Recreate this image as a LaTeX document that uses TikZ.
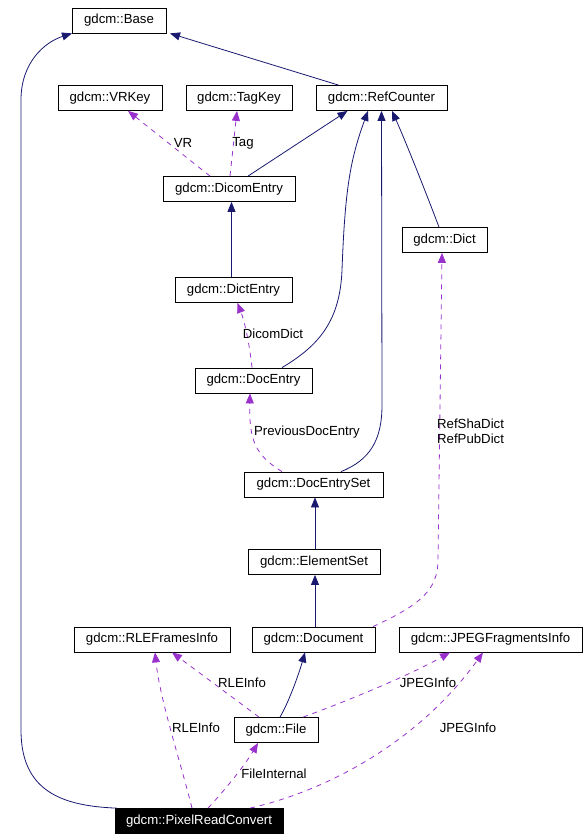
\documentclass[tikz,border=0pt]{standalone}
\usepackage{fontspec}
\setmainfont{Liberation Sans}
\usetikzlibrary{arrows.meta}
\definecolor{edgenavy}{RGB}{25,25,112}
\definecolor{edgepurple}{RGB}{153,50,204}
\tikzset{
  txt/.style={font=\fontsize{13.2}{15.5}\selectfont},
  cls/.style={txt, draw=black, line width=0.8pt, minimum width=#1, minimum height=25pt, inner sep=0pt, fill=white},
  clsdark/.style={cls=#1, fill=black, text=white},
  inh/.style={draw=edgenavy, line width=0.8pt, -{Triangle[length=10pt,width=8pt]}},
  usearrow/.style={draw=edgepurple, line width=0.8pt, dash pattern=on 5pt off 5pt, -{Triangle[length=10pt,width=8pt]}},
  lbl/.style={txt, inner sep=0pt}
}
\begin{document}
\begin{tikzpicture}[x=1pt,y=-1pt]
\useasboundingbox (0,0) rectangle (587,840);
% nodes
\node[cls=94pt]  (base)   at (119,20.5)  {gdcm::Base};
\node[cls=104pt] (vrkey)  at (110,98)    {gdcm::VRKey};
\node[cls=106pt] (tagkey) at (239,98)    {gdcm::TagKey};
\node[cls=131pt] (refc)   at (381.5,98)  {gdcm::RefCounter};
\node[cls=132pt] (dicom)  at (229,189)   {gdcm::DicomEntry};
\node[cls=85pt]  (dict)   at (444.5,240) {gdcm::Dict};
\node[cls=117pt] (dicte)  at (233.5,290) {gdcm::DictEntry};
\node[cls=117pt] (doce)   at (253.5,380.5) {gdcm::DocEntry};
\node[cls=139pt] (doces)  at (313.5,484.5) {gdcm::DocEntrySet};
\node[cls=132pt] (elem)   at (314,562)   {gdcm::ElementSet};
\node[cls=156pt] (rle)    at (152,639.5) {gdcm::RLEFramesInfo};
\node[cls=123pt] (docu)   at (313.5,639.5) {gdcm::Document};
\node[cls=183pt] (jpeg)   at (490.5,639.5) {gdcm::JPEGFragmentsInfo};
\node[cls=84pt]  (file)   at (276,730)   {gdcm::File};
\node[clsdark=168pt] (prc) at (199,821)  {gdcm::PixelReadConvert};
% inheritance (solid)
\draw[inh] ([xshift=2pt]prc.north west) .. controls (60,806) and (21,790) .. (21,730)
   -- (21,100) .. controls (21,62) and (45,42) .. ([xshift=-47pt]base.south);
\draw[inh] ([xshift=-43pt]refc.north) -- ([xshift=51pt]base.south);
\draw[inh] ([xshift=19pt]dicom.north) -- ([xshift=-34pt]refc.south);
\draw[inh] ([xshift=-2pt]dicte.north) -- ([xshift=2.5pt]dicom.south);
\draw[inh] ([xshift=28.5pt]doce.north) .. controls (320,345) and (340,320) .. (342,270)
   .. controls (345,190) and (350,160) .. ([xshift=-13.5pt]refc.south);
\draw[inh] ([xshift=27.5pt]doces.north) .. controls (370,460) and (382,440) .. (382,405)
   -- (refc.south);
\draw[inh] ([xshift=-5.5pt]dict.north) .. controls (425,190) and (405,140) .. ([xshift=10.5pt]refc.south);
\draw[inh] ([xshift=1pt]elem.north) -- ([xshift=1.5pt]doces.south);
\draw[inh] ([xshift=1.5pt]docu.north) -- ([xshift=1pt]elem.south);
\draw[inh] ([xshift=4pt]file.north) .. controls (290,700) and (300,670) .. ([xshift=-8.5pt]docu.south);
% usage (dashed)
\draw[usearrow] ([xshift=-19pt]dicom.north) -- ([xshift=18pt]vrkey.south);
\node[lbl] (lvr) at (183,143) {VR};
\draw[usearrow] ([xshift=1pt]dicom.north) -- ([xshift=-2pt]tagkey.south);
\node[lbl] (ltag) at (243,143) {Tag};
\draw[usearrow] ([xshift=-1.5pt]doce.north) .. controls (249,340) and (244,320) .. ([xshift=4pt]dicte.south);
\node[lbl] (ldd) at (273,334) {DicomDict};
\draw[usearrow] ([xshift=-31.5pt]doces.north) .. controls (255,455) and (249,440) .. ([xshift=-3.5pt]doce.south);
\node[lbl] (lpde) at (307,432) {PreviousDocEntry};
\draw[usearrow] ([xshift=59.5pt]docu.north) .. controls (420,605) and (438,590) .. (438,560)
   -- ([xshift=-2.5pt]dict.south);
\node[lbl, align=left, anchor=west] (lref) at (437,431.5) {RefShaDict\\RefPubDict};
\draw[usearrow] ([xshift=-17pt]file.north) -- ([xshift=20pt]rle.south);
\node[lbl] (lrle1) at (242,683) {RLEInfo};
\draw[usearrow] ([xshift=27pt]file.north) .. controls (350,700) and (410,675) .. ([xshift=-40.5pt]jpeg.south);
\node[lbl] (ljpg1) at (428,683) {JPEGInfo};
\draw[usearrow] ([xshift=-7pt]prc.north) .. controls (180,760) and (160,700) .. ([xshift=3pt]rle.south);
\node[lbl] (lrle2) at (196,728) {RLEInfo};
\draw[usearrow] ([xshift=9pt]prc.north) .. controls (225,790) and (245,765) .. ([xshift=-18pt]file.south);
\node[lbl] (lfi) at (274,774) {FileInternal};
\draw[usearrow] ([xshift=51pt]prc.north) .. controls (330,790) and (420,740) .. ([xshift=-7.5pt]jpeg.south);
\node[lbl] (ljpg2) at (468,728) {JPEGInfo};
\end{tikzpicture}
\end{document}
